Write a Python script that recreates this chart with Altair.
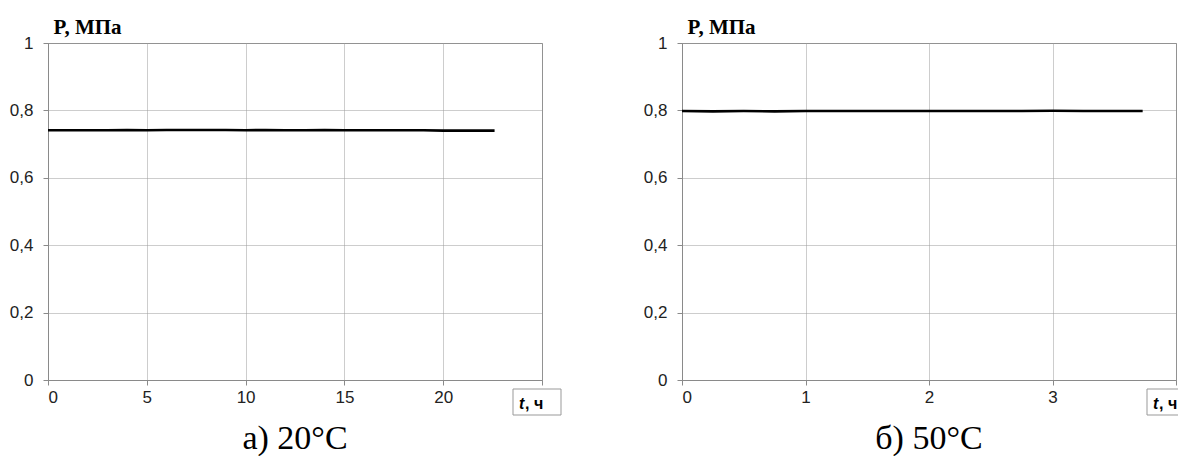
import altair as alt
import pandas as pd

# ---- data ----
t20 = [0, 1, 2, 3, 4, 5, 6, 7, 8, 9, 10, 11, 12, 13, 14, 15, 16, 17, 18, 19, 20, 21, 22, 22.6]
p20 = [0.741, 0.741, 0.741, 0.741, 0.742, 0.741, 0.742, 0.742, 0.742, 0.742, 0.741, 0.742,
       0.741, 0.741, 0.742, 0.741, 0.741, 0.741, 0.741, 0.741, 0.740, 0.740, 0.740, 0.740]

t50 = [0, 0.25, 0.5, 0.75, 1.0, 1.25, 1.5, 1.75, 2.0, 2.25, 2.5, 2.75, 3.0, 3.25, 3.5, 3.73]
p50 = [0.798, 0.797, 0.798, 0.797, 0.798, 0.798, 0.798, 0.798, 0.798, 0.798, 0.798, 0.798,
       0.799, 0.798, 0.798, 0.798]

x_ticks_20 = [0, 5, 10, 15, 20, 25]
x_ticks_50 = [0, 1, 2, 3, 4]
y_ticks = [0, 0.2, 0.4, 0.6, 0.8, 1]
captions = ["а) 20°C", "б) 50°C"]
y_title = "P, МПа"
x_title_var = "t"
x_title_unit = ", ч"

GRID = "#9a9a9a"
AX = "#8a8a8a"
H = 337
LFS = 17


def panel(t, p, xmax, xticks, caption, w, box_w):
    df = pd.DataFrame({"t": t, "P": p})
    one = pd.DataFrame({"k": [0]})
    line = alt.Chart(df).mark_line(color="black", strokeWidth=2.6).encode(
        x=alt.X("t:Q",
                scale=alt.Scale(domain=[0, xmax], nice=False, zero=True),
                axis=alt.Axis(values=xticks, title=None, labelFontSize=LFS, labelPadding=4,
                              labelExpr=f"datum.value >= {xmax} ? '' : format(datum.value, '~g')")),
        y=alt.Y("P:Q",
                scale=alt.Scale(domain=[0, 1], nice=False),
                axis=alt.Axis(values=y_ticks, title=y_title, labelFontSize=LFS,
                              labelExpr="replace(format(datum.value, '~g'), '.', ',')",
                              labelPadding=10, titleAngle=0, titleAlign="left",
                              titleBaseline="alphabetic", titleX=5, titleY=-10,
                              titleFont="Liberation Serif", titleFontWeight="bold",
                              titleFontSize=21, titleColor="black")),
    )
    box = alt.Chart(one).mark_rect(fill="white", stroke="#999999", strokeWidth=1).encode(
        x=alt.value(w - 29), x2=alt.value(w - 29 + box_w), y=alt.value(H + 9), y2=alt.value(H + 35))
    tv = alt.Chart(one).mark_text(text=x_title_var, font="Liberation Sans", fontStyle="italic",
                                  fontWeight="bold", fontSize=16, align="left",
                                  baseline="alphabetic", color="black").encode(
        x=alt.value(w - 23), y=alt.value(H + 29))
    tu = alt.Chart(one).mark_text(text=x_title_unit, font="Liberation Sans",
                                  fontWeight="bold", fontSize=16, align="left",
                                  baseline="alphabetic", color="black").encode(
        x=alt.value(w - 17), y=alt.value(H + 29))
    cap = alt.Chart(one).mark_text(text=caption, font="Liberation Serif", fontSize=34,
                                   align="center", baseline="alphabetic", color="black").encode(
        x=alt.value(w / 2), y=alt.value(H + 69))
    return alt.layer(line, box, tv, tu, cap).properties(width=w, height=H)


left = panel(t20, p20, 25, x_ticks_20, captions[0], 494, 48)
right = panel(t50, p50, 4, x_ticks_50, captions[1], 494, 40)

chart = alt.hconcat(left, right, spacing=140, bounds="flush").properties(
    padding={"left": 0, "top": 7, "right": -10, "bottom": -1}
).configure_view(stroke=AX, strokeWidth=1).configure_axis(
    labelFont="Liberation Sans", labelFontSize=LFS, labelColor="#222222",
    domainColor=AX, tickColor=AX, tickSize=5, domainWidth=1,
    gridColor=GRID, gridDash=[1, 1], gridWidth=1, labelPadding=5
)

chart.save("out.html", embed_options={"renderer": "svg", "actions": False})
